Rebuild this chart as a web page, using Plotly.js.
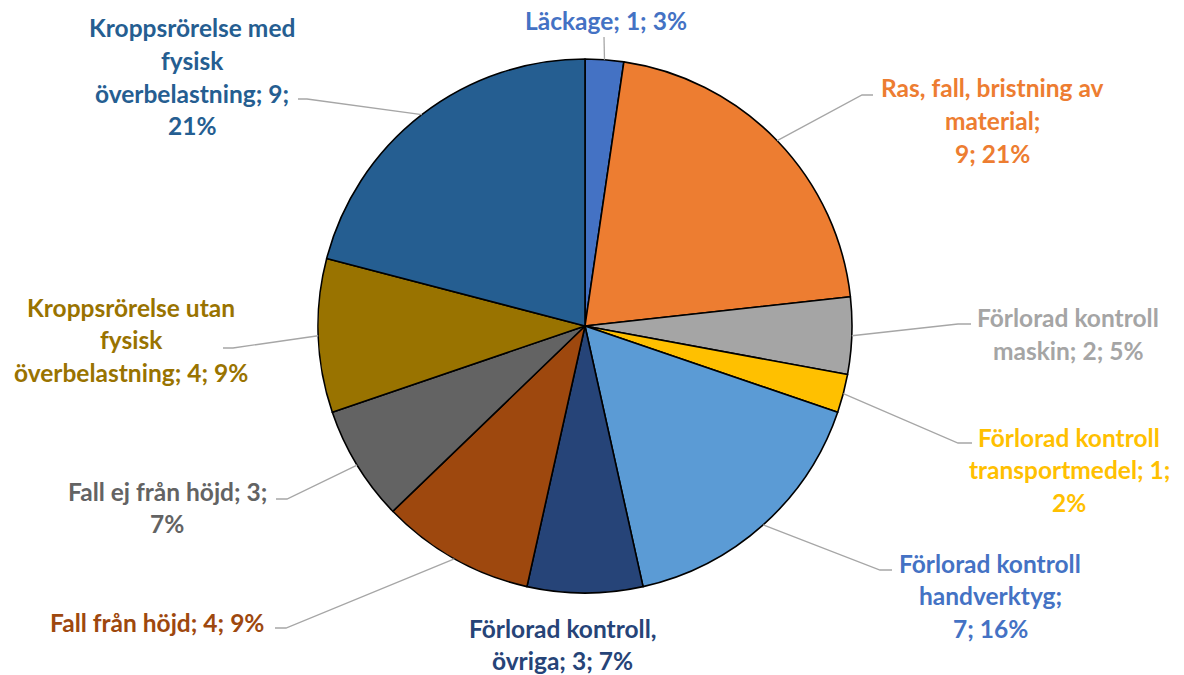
<!DOCTYPE html>
<html>
<head>
<meta charset="utf-8">
<script src="https://cdn.plot.ly/plotly-3.0.1.min.js"></script>
<style>html,body{margin:0;padding:0;background:#fff;}#chart{width:1184px;height:675px;}</style>
</head>
<body>
<div id="chart"></div>
<script>
// ---- data ----
const categories = [
  "Läckage",
  "Ras, fall, bristning av material",
  "Förlorad kontroll maskin",
  "Förlorad kontroll transportmedel",
  "Förlorad kontroll handverktyg",
  "Förlorad kontroll, övriga",
  "Fall från höjd",
  "Fall ej från höjd",
  "Kroppsrörelse utan fysisk överbelastning",
  "Kroppsrörelse med fysisk överbelastning"
];
const counts = [1, 9, 2, 1, 7, 3, 4, 3, 4, 9];
const percentLabels = [3, 21, 5, 2, 16, 7, 9, 7, 9, 21];
const colors = ["#4472C4", "#ED7D31", "#A5A5A5", "#FFC000", "#5B9BD5",
                "#264478", "#9E480E", "#636363", "#997300", "#255E91"];
const labelColors = ["#4472C4", "#ED7D31", "#A5A5A5", "#FFC000", "#4472C4",
                     "#264478", "#9E480E", "#636363", "#997300", "#255E91"];

// ---- layout of labels (pixels) ----
const W = 1184, H = 675;
const center = [585, 326], radius = 267;
const wordsPerLine = [[3],[4,1,2],[2,3],[2,2,1],[2,1,2],[2,3],[5],[5,1],[2,1,3],[2,1,2,1]];
const labelCenterX = [606, 992, 1068, 1069, 990, 562, 157, 167, 131, 192];
const labelFirstY  = [21, 88, 318, 437, 563, 628, 622, 491, 307, 28];
const lineGap = 32.5;
const leaderElbow = [[604,37],[862,95],[958,324],[958,443],[880,570],null,[286,628],[287,499],[233,348],[307,99]];
const leaderEnd   = [[604,37],[873,95],[971,324],[972,443],[892,570],null,[275,628],[276,499],[223,348],[298,99]];

const px = x => x / W;
const py = y => 1 - y / H;

const annotations = [];
const shapes = [];
const total = counts.reduce((a, b) => a + b, 0);
let cum = 0;
categories.forEach((cat, i) => {
  const words = (cat + "; " + counts[i] + "; " + percentLabels[i] + "%").split(" ");
  let k = 0;
  wordsPerLine[i].forEach((n, li) => {
    const line = words.slice(k, k + n).join(" ");
    k += n;
    annotations.push({
      x: px(labelCenterX[i]), y: py(labelFirstY[i] + li * lineGap),
      xref: "paper", yref: "paper", xanchor: "center", yanchor: "middle",
      showarrow: false, text: line,
      font: {family: "Lato, 'Open Sans', sans-serif", size: 24.5, color: labelColors[i], weight: "bold"}
    });
  });
  const mid = (cum + counts[i] / 2) / total * 2 * Math.PI;
  cum += counts[i];
  if (leaderElbow[i]) {
    const sx = center[0] + radius * Math.sin(mid);
    const sy = center[1] - radius * Math.cos(mid);
    const e = leaderElbow[i], f = leaderEnd[i];
    shapes.push({
      type: "path", xref: "paper", yref: "paper",
      path: `M ${px(sx)} ${py(sy)} L ${px(e[0])} ${py(e[1])} L ${px(f[0])} ${py(f[1])}`,
      line: {color: "#A6A6A6", width: 1.3}
    });
  }
});

const trace = {
  type: "pie",
  labels: categories,
  values: counts,
  sort: false,
  direction: "clockwise",
  rotation: 0,
  textinfo: "none",
  hoverinfo: "label+value+percent",
  marker: {colors: colors, line: {color: "#000000", width: 1.6}},
  domain: {x: [px(center[0] - radius), px(center[0] + radius)],
           y: [py(center[1] + radius), py(center[1] - radius)]},
  showlegend: false
};

Plotly.newPlot("chart", [trace], {
  width: W, height: H,
  margin: {l: 0, r: 0, t: 0, b: 0},
  paper_bgcolor: "#ffffff",
  plot_bgcolor: "#ffffff",
  showlegend: false,
  annotations: annotations,
  shapes: shapes
}, {displayModeBar: false, staticPlot: true});
</script>
</body>
</html>
